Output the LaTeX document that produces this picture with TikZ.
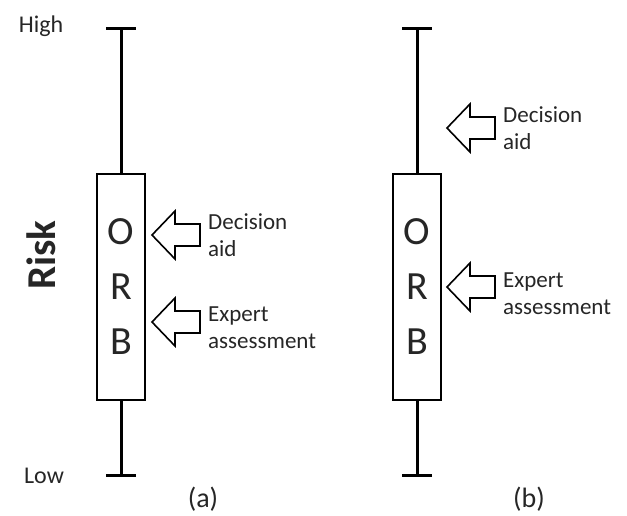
\documentclass[tikz,border=0pt]{standalone}
\usepackage{fontspec}
\setmainfont{Carlito}
\usetikzlibrary{arrows.meta}

\begin{document}
\begin{tikzpicture}[x=1pt,y=-1pt,
  orbbox/.style={draw,line width=2.5pt,minimum width=48pt,minimum height=226pt,inner sep=0pt,align=center,text=black!85,font=\fontsize{40}{55}\selectfont},
  whisker/.style={line width=3pt,-{Bar[width=30pt,line width=3pt]}},
  note/.style={anchor=west,align=left,inner sep=0pt,text=black!85,font=\fontsize{23}{27}\selectfont},
  endlabel/.style={anchor=base,inner sep=0pt,text=black!85,font=\fontsize{24}{28}\selectfont},
  caption/.style={inner sep=0pt,text=black!85,font=\fontsize{28}{32}\selectfont},
  inarrow/.pic={\draw[line width=1.6pt,line join=miter] (0,0) -- (23,-24) -- (23,-11) -- (48,-11) -- (48,11) -- (23,11) -- (23,24) -- cycle;}]
  \useasboundingbox (0,0) rectangle (627,515);
  %\draw[step=20,very thin,opacity=0.2] (0,0) grid (627,515);
  \node[endlabel] (high) at (41,32) {High};
  \node[endlabel] (low) at (44,483) {Low};
  \node[rotate=90,inner sep=0pt,text=black!85,font=\bfseries\fontsize{41}{46}\selectfont] (risk) at (41,255) {Risk};
  % (a)
  \node[orbbox] (boxa) at (121,287) {O\\R\\B};
  \coordinate (topa) at (121,27);
  \coordinate (bota) at (121,477);
  \draw[whisker] (boxa.north) -- (topa);
  \draw[whisker] (boxa.south) -- (bota);
  \pic (arrda) at (152,235) {inarrow};
  \pic (arrea) at (152,322) {inarrow};
  \node[note] (decisa) at (208,235) {Decision\\aid};
  \node[note] (experta) at (208,328) {Expert\\assessment};
  \node[caption] (capa) at (203,499) {(a)};
  % (b)
  \node[orbbox] (boxb) at (417,287) {O\\R\\B};
  \coordinate (topb) at (417,27);
  \coordinate (botb) at (417,477);
  \draw[whisker] (boxb.north) -- (topb);
  \draw[whisker] (boxb.south) -- (botb);
  \pic (arrdb) at (447,128) {inarrow};
  \pic (arreb) at (447,287) {inarrow};
  \node[note] (decisb) at (503,128) {Decision\\aid};
  \node[note] (expertb) at (503,294) {Expert\\assessment};
  \node[caption] (capb) at (529,499) {(b)};
\end{tikzpicture}
\end{document}
